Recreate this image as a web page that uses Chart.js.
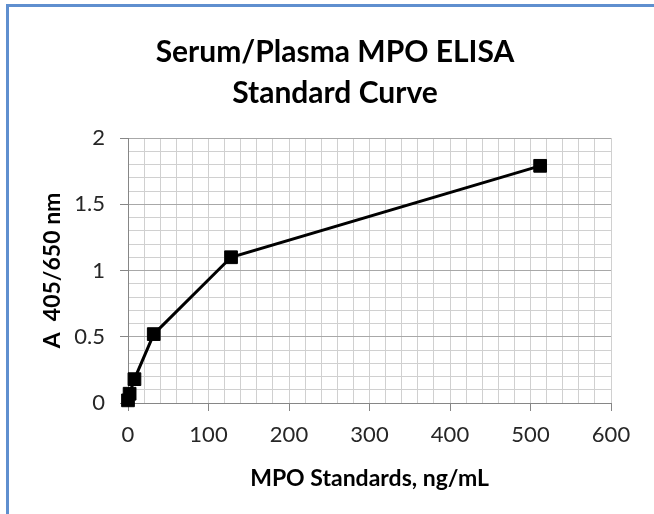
<!DOCTYPE html>
<html lang="en">
  <head>
    <meta charset="utf-8" />
    <title>Serum/Plasma MPO ELISA Standard Curve</title>
    <style>
      html, body { margin: 0; background: #fff; overflow: hidden; }
      #frame {
        position: absolute; left: 6px; top: 4px; width: 700px; height: 600px;
        border-left: 3px solid #5f8fcf; border-top: 3px solid #5f8fcf;
      }
      #wrap { position: absolute; left: 0; top: 0; }
    </style>
  </head>
  <body>
    <div id="frame"></div>
    <div id="wrap">
      <canvas id="canvas" width="654" height="514"></canvas>
    </div>

    <script src="https://cdn.jsdelivr.net/npm/chart.js"></script>

    <script>
      // MPO standards (ng/mL) and measured absorbance
      const standards = [0, 2, 8, 32, 128, 512];
      const absorbance = [0.02, 0.07, 0.18, 0.52, 1.1, 1.79];

      const xTickLabels = [0, 100, 200, 300, 400, 500, 600];
      const yTickLabels = [0, 0.5, 1, 1.5, 2];

      const isIn = (list, v) => list.some((t) => Math.abs(t - v) < 1e-6);

      const tickFont = { family: "Lato", size: 22 };
      const axisTitleFont = { family: "Lato", size: 23, weight: "bold" };

      const ctx = document.getElementById("canvas");

      new Chart(ctx, {
        type: "scatter",
        data: {
          datasets: [
            {
              data: standards.map((x, i) => ({ x, y: absorbance[i] })),
              showLine: true,
              borderColor: "#000",
              backgroundColor: "#000",
              borderWidth: 3,
              pointStyle: "rect",
              pointRadius: 9,
              pointBorderWidth: 1,
              pointBorderColor: "#000",
              pointBackgroundColor: "#000",
              tension: 0,
              clip: false,
            },
          ],
        },
        options: {
          responsive: false,
          animation: false,
          layout: { padding: { left: 16, right: 0, top: 0, bottom: 0 } },
          plugins: {
            legend: { display: false },
            tooltip: { enabled: false },
            title: {
              display: true,
              text: ["Serum/Plasma MPO ELISA", "Standard Curve"],
              color: "#000",
              font: { family: "Lato", size: 30, weight: "bold", lineHeight: 41 / 30 },
              padding: { top: 32, bottom: 24 },
            },
          },
          scales: {
            x: {
              type: "linear",
              min: 0,
              max: 600,
              afterFit: (s) => { s.height = 111; },
              ticks: {
                stepSize: 20,
                autoSkip: false,
                maxRotation: 0,
                padding: 11,
                color: "#262626",
                font: tickFont,
                callback: (v) => (isIn(xTickLabels, v) ? String(v) : ""),
              },
              grid: {
                color: "#d0d0d0",
                tickLength: 8,
                tickColor: (c) => (c.tick && isIn(xTickLabels, c.tick.value) ? "#868686" : "rgba(0,0,0,0)"),
              },
              border: { color: "#868686" },
              title: {
                display: true,
                text: "MPO Standards, ng/mL",
                color: "#000",
                font: axisTitleFont,
                padding: { top: 0, bottom: 22 },
              },
            },
            y: {
              min: 0,
              max: 2,
              afterFit: (s) => { s.width = 112; },
              ticks: {
                stepSize: 0.1,
                autoSkip: false,
                padding: 15,
                color: "#262626",
                font: tickFont,
                callback: (v) => (isIn(yTickLabels, v) ? String(Math.round(v * 10) / 10) : ""),
              },
              grid: {
                color: (c) => (c.tick && isIn(yTickLabels, c.tick.value) ? "#a8a8a8" : "#d0d0d0"),
                tickLength: 8,
                tickColor: (c) => (c.tick && isIn(yTickLabels, c.tick.value) ? "#868686" : "rgba(0,0,0,0)"),
              },
              border: { color: "#868686" },
              title: {
                display: true,
                text: "A  405/650 nm",
                color: "#000",
                font: axisTitleFont,
                padding: { top: 23, bottom: 0 },
              },
            },
            // empty right-hand axis that only reserves the margin right of the plot
            yRight: {
              position: "right",
              afterFit: (s) => { s.width = 43; },
              ticks: { display: false },
              grid: { display: false, drawOnChartArea: false },
              border: { display: false },
            },
          },
        },
      });
    </script>
  </body>
</html>
